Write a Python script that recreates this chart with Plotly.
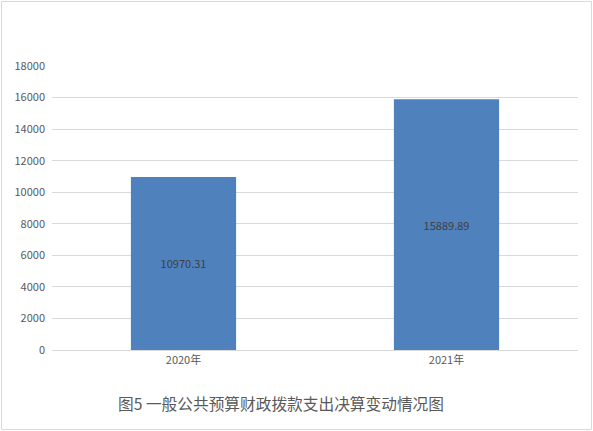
import plotly.graph_objects as go

categories = ["2020年", "2021年"]
values = [10970.31, 15889.89]
value_labels = ["10970.31", "15889.89"]
tick_vals = [0, 2000, 4000, 6000, 8000, 10000, 12000, 14000, 16000, 18000]
tick_text = [str(v) for v in tick_vals]
title_text = "图5 一般公共预算财政拨款支出决算变动情况图"

W, H = 593, 431
L, R, T, B = 52, 15, 66, 81
pw = W - L - R
ph = H - T - B

fig = go.Figure()
fig.add_trace(go.Bar(
    x=categories, y=values,
    marker=dict(color="#4F81BD", line=dict(width=0)),
    text=value_labels, textposition="inside", insidetextanchor="middle",
    textfont=dict(family="Microsoft YaHei, Noto Sans CJK SC, sans-serif", size=11, color="#404040"),
    cliponaxis=False,
))

def px_x(p):
    return (p - L) / pw

def px_y(p):
    return (H - B - p) / ph

fig.update_layout(
    width=W, height=H,
    margin=dict(l=L, r=R, t=T, b=B, autoexpand=False),
    paper_bgcolor="white", plot_bgcolor="white",
    showlegend=False,
    bargap=0.6,
    font=dict(family="Microsoft YaHei, Noto Sans CJK SC, sans-serif", color="#595959", size=11),
    xaxis=dict(showgrid=False, showline=True, linecolor="#D9D9D9", linewidth=1,
               ticks="", tickfont=dict(size=11, color="#595959"), automargin=False),
    yaxis=dict(range=[0, 18000], tickvals=tick_vals, ticktext=tick_text, showgrid=True,
               gridcolor="#D9D9D9", gridwidth=1, zeroline=False, showline=False, ticks="",
               tickfont=dict(size=11, color="#595959"), ticklabelstandoff=6, automargin=False),
    annotations=[dict(
        text=title_text, xref="paper", yref="paper",
        x=px_x(281), y=px_y(403), xanchor="center", yanchor="middle",
        showarrow=False, font=dict(size=15.7, color="#595959"),
    )],
    shapes=[dict(
        type="rect", xref="paper", yref="paper",
        x0=px_x(1.5), x1=px_x(591.5), y0=px_y(429.5), y1=px_y(1.5),
        line=dict(color="#D9D9D9", width=1), fillcolor="rgba(0,0,0,0)", layer="below",
    )],
)

fig.write_html("out.html", config={"displayModeBar": False},
               post_script="document.body.style.margin='0';")
